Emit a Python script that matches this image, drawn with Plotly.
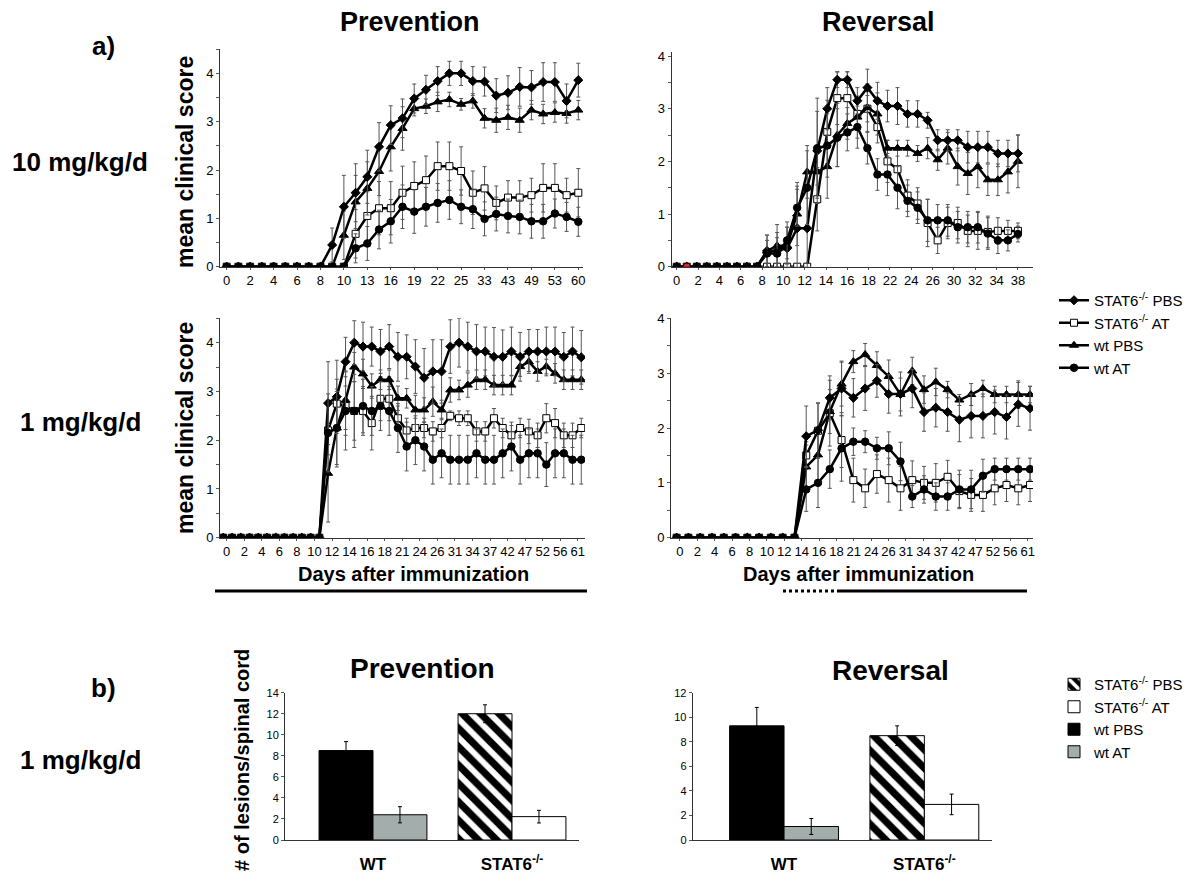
import plotly.graph_objects as go
import numpy as np

# ---- a) mean clinical score: tick labels (days after immunization) ----
days_prev10 = ["0", "2", "4", "6", "8", "10", "13", "16", "19", "22", "25", "33", "43", "49", "53", "60"]
days_rev10 = ["0", "2", "4", "6", "8", "10", "12", "14", "16", "18", "22", "24", "26", "30", "32", "34", "38"]
days_prev1 = ["0", "2", "4", "6", "8", "10", "12", "14", "16", "18", "21", "24", "26", "31", "34", "37",
              "42", "47", "52", "56", "61"]
days_rev1 = ["0", "2", "4", "6", "8", "10", "12", "14", "16", "18", "21", "24", "26", "31", "34", "37",
             "42", "47", "52", "56", "61"]

# prevention, 10 mg/kg/d  (31 time points)
stat_pbs_prev10 = [0, 0, 0, 0, 0, 0, 0, 0, 0, 0.45, 1.24, 1.53, 1.86, 2.48, 2.93, 3.07, 3.48, 3.66, 3.84, 4.0,
                   4.0, 3.84, 3.83, 3.54, 3.6, 3.72, 3.71, 3.82, 3.82, 3.43, 3.86]
stat_pbs_prev10_err = [0, 0, 0, 0, 0, 0, 0, 0, 0, 0.35, 0.65, 0.6, 0.55, 0.5, 0.4, 0.4, 0.3, 0.3, 0.3, 0.25,
                       0.25, 0.3, 0.3, 0.35, 0.35, 0.4, 0.35, 0.4, 0.4, 0.35, 0.35]
stat_at_prev10 = [0, 0, 0, 0, 0, 0, 0, 0, 0, 0, 0, 0.68, 1.05, 1.21, 1.21, 1.53, 1.67, 1.79, 2.08, 2.08,
                  1.98, 1.53, 1.62, 1.32, 1.43, 1.43, 1.48, 1.63, 1.63, 1.48, 1.53]
stat_at_prev10_err = [0, 0, 0, 0, 0, 0, 0, 0, 0, 0, 0, 0.5, 0.5, 0.55, 0.55, 0.55, 0.5, 0.5, 0.5, 0.5,
                      0.5, 0.45, 0.45, 0.35, 0.35, 0.35, 0.35, 0.5, 0.5, 0.35, 0.5]
wt_pbs_prev10 = [0, 0, 0, 0, 0, 0, 0, 0, 0, 0, 0.65, 1.34, 1.62, 1.97, 2.48, 2.86, 3.27, 3.32, 3.41, 3.46,
                 3.36, 3.43, 3.07, 3.03, 3.09, 3.03, 3.24, 3.16, 3.19, 3.17, 3.24]
wt_pbs_prev10_err = [0, 0, 0, 0, 0, 0, 0, 0, 0, 0, 0.5, 0.55, 0.55, 0.5, 0.5, 0.45, 0.15, 0.15, 0.2, 0.15,
                     0.12, 0.15, 0.2, 0.25, 0.25, 0.25, 0.2, 0.2, 0.2, 0.2, 0.2]
wt_at_prev10 = [0, 0, 0, 0, 0, 0, 0, 0, 0, 0, 0, 0.38, 0.48, 0.77, 0.94, 1.24, 1.14, 1.24, 1.32, 1.38,
                1.24, 1.19, 0.99, 1.09, 1.05, 1.03, 0.94, 0.94, 1.1, 1.03, 0.93]
wt_at_prev10_err = [0, 0, 0, 0, 0, 0, 0, 0, 0, 0, 0, 0.3, 0.35, 0.4, 0.45, 0.45, 0.45, 0.4, 0.4, 0.4,
                    0.35, 0.4, 0.35, 0.35, 0.35, 0.35, 0.35, 0.35, 0.3, 0.3, 0.3]

# reversal, 10 mg/kg/d  (35 time points)
stat_pbs_rev10 = [0, 0, 0, 0, 0, 0, 0, 0, 0, 0.3, 0.3, 0.35, 0.73, 0.73, 2.2, 3.0, 3.55, 3.55, 3.15, 3.4,
                  3.15, 3.05, 3.05, 2.9, 2.9, 2.78, 2.4, 2.4, 2.4, 2.27, 2.27, 2.27, 2.15, 2.15, 2.15]
stat_pbs_rev10_err = [0, 0, 0, 0, 0, 0, 0, 0, 0, 0.3, 0.35, 0.4, 0.8, 0.8, 1.0, 0.4, 0.15, 0.15, 0.25, 0.35,
                      0.35, 0.3, 0.35, 0.25, 0.25, 0.15, 0.2, 0.2, 0.2, 0.3, 0.3, 0.3, 0.25, 0.25, 0.35]
stat_at_rev10 = [0, 0, 0, 0, 0, 0, 0, 0, 0, 0, 0, 0, 0, 0, 1.28, 2.56, 3.2, 3.2, 2.9, 3.0,
                 2.65, 2.0, 1.85, 1.35, 1.2, 0.83, 0.5, 0.83, 0.83, 0.68, 0.68, 0.66, 0.68, 0.68, 0.68]
stat_at_rev10_err = [0, 0, 0, 0, 0, 0, 0, 0, 0, 0, 0, 0, 0, 0, 0.6, 0.6, 0.5, 0.5, 0.25, 0.25,
                     0.3, 0.4, 0.4, 0.3, 0.3, 0.45, 0.25, 0.3, 0.3, 0.3, 0.35, 0.3, 0.25, 0.2, 0.15]
wt_pbs_rev10 = [0, 0, 0, 0, 0, 0, 0, 0, 0, 0.3, 0.4, 0.4, 1.0, 1.8, 1.8, 1.9, 2.5, 2.72, 2.84, 3.02,
                2.9, 2.25, 2.25, 2.25, 2.15, 2.25, 2.03, 2.25, 1.9, 1.77, 1.9, 1.65, 1.65, 1.8, 2.0]
wt_pbs_rev10_err = [0, 0, 0, 0, 0, 0, 0, 0, 0, 0.3, 0.4, 0.35, 0.6, 0.5, 0.5, 0.6, 0.6, 0.3, 0.4, 0.45,
                    0.4, 0.15, 0.15, 0.15, 0.15, 0.2, 0.2, 0.3, 0.35, 0.4, 0.4, 0.3, 0.3, 0.4, 0.5]
wt_at_rev10 = [0, 0, 0, 0, 0, 0, 0, 0, 0, 0.25, 0.25, 0.5, 1.12, 1.5, 2.25, 2.3, 2.45, 2.55, 2.65, 2.25,
               1.75, 1.75, 1.5, 1.25, 1.12, 0.88, 0.88, 0.88, 0.75, 0.75, 0.75, 0.63, 0.5, 0.5, 0.62]
wt_at_rev10_err = [0, 0, 0, 0, 0, 0, 0, 0, 0, 0.25, 0.3, 0.35, 0.35, 0.7, 0.7, 0.6, 0.55, 0.35, 0.4, 0.3,
                   0.3, 0.4, 0.4, 0.3, 0.3, 0.4, 0.3, 0.3, 0.3, 0.3, 0.3, 0.3, 0.25, 0.2, 0.15]

# prevention, 1 mg/kg/d  (42 time points)
stat_pbs_prev1 = [0, 0, 0, 0, 0, 0, 0, 0, 0, 0, 0, 0, 2.76, 2.89, 3.61, 4.0, 3.92, 3.92, 3.82, 3.92, 3.71,
                  3.71, 3.51, 3.28, 3.41, 3.41, 3.92, 4.0, 3.92, 3.82, 3.82, 3.71, 3.71, 3.82, 3.71, 3.82,
                  3.82, 3.82, 3.82, 3.71, 3.82, 3.7]
stat_pbs_prev1_err = [0, 0, 0, 0, 0, 0, 0, 0, 0, 0, 0, 0, 0.85, 0.75, 0.5, 0.45, 0.5, 0.4, 0.45, 0.45, 0.5,
                      0.45, 0.55, 0.6, 0.65, 0.65, 0.55, 0.5, 0.5, 0.55, 0.5, 0.6, 0.55, 0.5, 0.5, 0.45,
                      0.45, 0.5, 0.5, 0.5, 0.5, 0.55]
stat_at_prev1 = [0, 0, 0, 0, 0, 0, 0, 0, 0, 0, 0, 0, 2.2, 2.75, 2.7, 2.6, 2.6, 2.35, 2.85, 2.85, 2.45,
                 2.2, 2.25, 2.25, 2.18, 2.25, 2.5, 2.45, 2.45, 2.18, 2.18, 2.45, 2.25, 2.1, 2.25, 2.18,
                 2.1, 2.45, 2.35, 2.1, 2.1, 2.25]
stat_at_prev1_err = [0, 0, 0, 0, 0, 0, 0, 0, 0, 0, 0, 0, 0.5, 0.5, 0.6, 0.6, 0.5, 0.55, 0.45, 0.45, 0.25,
                     0.25, 0.2, 0.2, 0.2, 0.2, 0.1, 0.15, 0.15, 0.2, 0.2, 0.2, 0.2, 0.2, 0.2, 0.25,
                     0.25, 0.3, 0.3, 0.25, 0.25, 0.2]
wt_pbs_prev1 = [0, 0, 0, 0, 0, 0, 0, 0, 0, 0, 0, 0, 1.32, 2.25, 2.82, 3.5, 3.36, 3.11, 3.24, 3.24, 2.86,
                2.86, 2.62, 2.62, 2.79, 2.62, 3.03, 3.03, 3.13, 3.24, 3.24, 3.13, 3.13, 3.13, 3.51, 3.61,
                3.41, 3.51, 3.37, 3.24, 3.24, 3.24]
wt_pbs_prev1_err = [0, 0, 0, 0, 0, 0, 0, 0, 0, 0, 0, 0, 1.0, 0.8, 0.6, 0.3, 0.3, 0.25, 0.2, 0.2, 0.25,
                    0.2, 0.3, 0.25, 0.3, 0.2, 0.25, 0.2, 0.25, 0.2, 0.2, 0.2, 0.2, 0.2, 0.2, 0.2,
                    0.2, 0.15, 0.2, 0.2, 0.2, 0.2]
wt_at_prev1 = [0, 0, 0, 0, 0, 0, 0, 0, 0, 0, 0, 0, 2.15, 2.25, 2.6, 2.6, 2.7, 2.6, 2.7, 2.6, 2.25,
               1.87, 2.0, 1.87, 1.6, 1.73, 1.6, 1.6, 1.6, 1.73, 1.6, 1.6, 1.73, 1.87, 1.6, 1.73,
               1.73, 1.5, 1.73, 1.73, 1.6, 1.6]
wt_at_prev1_err = [0, 0, 0, 0, 0, 0, 0, 0, 0, 0, 0, 0, 0.8, 0.75, 0.8, 0.75, 0.55, 0.5, 0.5, 0.5, 0.5,
                   0.5, 0.5, 0.5, 0.5, 0.5, 0.5, 0.5, 0.5, 0.5, 0.5, 0.5, 0.5, 0.5, 0.5, 0.5,
                   0.5, 0.45, 0.5, 0.5, 0.5, 0.5]

# reversal, 1 mg/kg/d  (31 time points)
stat_pbs_rev1 = [0, 0, 0, 0, 0, 0, 0, 0, 0, 0, 0, 1.85, 1.96, 2.55, 2.72, 2.55, 2.72, 2.86, 2.62, 2.62,
                 2.72, 2.29, 2.37, 2.29, 2.15, 2.22, 2.22, 2.29, 2.2, 2.43, 2.36]
stat_pbs_rev1_err = [0, 0, 0, 0, 0, 0, 0, 0, 0, 0, 0, 0.55, 0.5, 0.4, 0.5, 0.35, 0.4, 0.3, 0.35, 0.4,
                     0.35, 0.35, 0.35, 0.35, 0.4, 0.4, 0.4, 0.4, 0.4, 0.4, 0.4]
stat_at_rev1 = [0, 0, 0, 0, 0, 0, 0, 0, 0, 0, 0, 1.5, 1.95, 2.27, 1.78, 1.05, 0.9, 1.16, 1.05, 0.9,
                1.05, 1.0, 1.0, 1.11, 0.85, 0.78, 0.78, 0.9, 0.96, 0.9, 0.96]
stat_at_rev1_err = [0, 0, 0, 0, 0, 0, 0, 0, 0, 0, 0, 0.25, 0.5, 0.6, 0.5, 0.4, 0.35, 0.35, 0.4, 0.4,
                    0.35, 0.3, 0.35, 0.3, 0.3, 0.3, 0.3, 0.3, 0.3, 0.3, 0.3]
wt_pbs_rev1 = [0, 0, 0, 0, 0, 0, 0, 0, 0, 0, 0, 1.29, 1.51, 2.3, 2.8, 3.21, 3.34, 3.14, 2.94, 2.61,
               3.04, 2.7, 2.84, 2.7, 2.51, 2.61, 2.72, 2.61, 2.61, 2.61, 2.61]
wt_pbs_rev1_err = [0, 0, 0, 0, 0, 0, 0, 0, 0, 0, 0, 0.4, 0.5, 0.4, 0.4, 0.2, 0.2, 0.25, 0.3, 0.3,
                   0.25, 0.25, 0.25, 0.15, 0.1, 0.2, 0.15, 0.15, 0.15, 0.25, 0.15]
wt_at_rev1 = [0, 0, 0, 0, 0, 0, 0, 0, 0, 0, 0, 0.88, 1.0, 1.25, 1.63, 1.75, 1.75, 1.63, 1.63, 1.39,
              0.75, 0.88, 0.75, 0.75, 0.88, 0.88, 1.13, 1.25, 1.25, 1.25, 1.25]
wt_at_rev1_err = [0, 0, 0, 0, 0, 0, 0, 0, 0, 0, 0, 0.4, 0.45, 0.35, 0.6, 0.25, 0.2, 0.2, 0.3, 0.35,
                  0.2, 0.25, 0.25, 0.25, 0.35, 0.35, 0.3, 0.2, 0.2, 0.2, 0.2]

# ---- b) lesions per spinal cord ----
lesion_groups = ["WT", "STAT6<sup>-/-</sup>"]
lesions_pbs_prev = [8.5, 12.0]
lesions_pbs_prev_err = [0.85, 0.85]
lesions_at_prev = [2.4, 2.22]
lesions_at_prev_err = [0.77, 0.6]
lesions_pbs_rev = [9.3, 8.5]
lesions_pbs_rev_err = [1.5, 0.8]
lesions_at_rev = [1.1, 2.9]
lesions_at_rev_err = [0.65, 0.84]

# ---------------------------------------------------------------
# the page body keeps its default 8px margin, so the figure is drawn
# 8px in from the window edge; px()/py() take window pixel positions
PAD = 8
W, H = 1200 - 2 * PAD, 885 - 2 * PAD
FONT = "Liberation Sans, Arial, Helvetica, sans-serif"
SP = "STAT6<sup>-/-</sup> PBS"
SA = "STAT6<sup>-/-</sup> AT"
WP = "wt PBS"
WA = "wt AT"


def px(x):
    return (x - PAD) / W


def py(y):
    return 1 - (y - PAD) / H


style = {
    SP: dict(symbol="diamond", size=7, color="black", rank=1),
    SA: dict(symbol="square", size=7, color="white", rank=2),
    WP: dict(symbol="triangle-up", size=8, color="black", rank=3),
    WA: dict(symbol="circle", size=7.5, color="black", rank=4),
}

# box = (left, right, top, bottom) of the axes in window pixels
panels = [
    dict(labels=days_prev10, box=(220, 583, 49.2, 266.7), xr=(-0.57, 30.4), yr=(0, 4.5), lab=(0, 30),
         series=[(SA, stat_at_prev10, stat_at_prev10_err), (WP, wt_pbs_prev10, wt_pbs_prev10_err),
                 (SP, stat_pbs_prev10, stat_pbs_prev10_err), (WA, wt_at_prev10, wt_at_prev10_err)]),
    dict(labels=days_rev10, box=(671.7, 1033, 51.8, 266.7), xr=(-0.5, 35.5), yr=(0, 4.08), lab=(0, 34),
         series=[(SA, stat_at_rev10, stat_at_rev10_err), (WP, wt_pbs_rev10, wt_pbs_rev10_err),
                 (SP, stat_pbs_rev10, stat_pbs_rev10_err), (WA, wt_at_rev10, wt_at_rev10_err)]),
    dict(labels=days_prev1, box=(220, 585, 318.3, 537.7), xr=(-0.38, 41.43), yr=(0, 4.5), lab=(0.39, 40.6),
         series=[(SA, stat_at_prev1, stat_at_prev1_err), (WP, wt_pbs_prev1, wt_pbs_prev1_err),
                 (SP, stat_pbs_prev1, stat_pbs_prev1_err), (WA, wt_at_prev1, wt_at_prev1_err)]),
    dict(labels=days_rev1, box=(671, 1033, 318.3, 537.7), xr=(-0.48, 30.25), yr=(0, 4.0), lab=(0.28, 29.8),
         series=[(SA, stat_at_rev1, stat_at_rev1_err), (WP, wt_pbs_rev1, wt_pbs_rev1_err),
                 (SP, stat_pbs_rev1, stat_pbs_rev1_err), (WA, wt_at_rev1, wt_at_rev1_err)]),
]

fig = go.Figure()
layout_axes = {}

for k, p in enumerate(panels, start=1):
    sfx = "" if k == 1 else str(k)
    for name, y, err in p["series"]:
        st = style[name]
        colors = [st["color"]] * len(y)
        if k == 2 and name == WA:
            colors[1] = "#e0202a"  # the single red marker on day 1
        fig.add_trace(go.Scatter(
            x=np.arange(len(y)), y=y, name=name, mode="lines+markers",
            xaxis="x" + sfx, yaxis="y" + sfx,
            line=dict(color="black", width=2.5),
            marker=dict(symbol=st["symbol"], size=st["size"], color=colors,
                        line=dict(color="black", width=1)),
            error_y=dict(type="data", array=err, color="#555555", thickness=1, width=2),
            showlegend=(k == 1), legendrank=st["rank"], legend="legend",
        ))
    l, r, t, b = p["box"]
    layout_axes["xaxis" + sfx] = dict(
        domain=[px(l), px(r)], range=list(p["xr"]), anchor="y" + sfx,
        tickmode="array", tickvals=np.linspace(p["lab"][0], p["lab"][1], len(p["labels"])),
        ticktext=p["labels"], ticks="outside", ticklen=2, tickcolor="#555",
        showline=True, linecolor="#333", linewidth=1, showgrid=False, zeroline=False,
        tickfont=dict(family=FONT, size=13, color="black"),
    )
    layout_axes["yaxis" + sfx] = dict(
        domain=[py(b), py(t)], range=list(p["yr"]), anchor="x" + sfx,
        tickmode="linear", tick0=0, dtick=1, ticks="outside", ticklen=3, tickcolor="#555",
        minor=dict(tickmode="linear", tick0=0, dtick=0.5, ticks="outside", ticklen=3, tickcolor="#555"),
        showline=True, linecolor="#333", linewidth=1, showgrid=False, zeroline=False,
        tickfont=dict(family=FONT, size=13, color="black"),
    )

# ---- bar panels ----
bar_w = 0.388
bar_panels = [
    dict(k=5, box=(285, 579, 692.7, 840), xr=(-0.633, 1.482), yr=(0, 14),
         pbs=lesions_pbs_prev, pbs_err=lesions_pbs_prev_err, at=lesions_at_prev, at_err=lesions_at_prev_err),
    dict(k=6, box=(692.7, 991.7, 692.7, 840), xr=(-0.651, 1.48), yr=(0, 12),
         pbs=lesions_pbs_rev, pbs_err=lesions_pbs_rev_err, at=lesions_at_rev, at_err=lesions_at_rev_err),
]
grey = "#a3adab"
for bp in bar_panels:
    sfx = str(bp["k"])
    first = bp["k"] == 5
    common = dict(xaxis="x" + sfx, yaxis="y" + sfx, width=bar_w, legend="legend2", showlegend=first)
    # WT group
    fig.add_trace(go.Bar(x=[lesion_groups[0]], y=[bp["pbs"][0]], name=WP, offset=-bar_w,
                         marker=dict(color="black", line=dict(color="black", width=1)),
                         error_y=dict(type="data", array=[bp["pbs_err"][0]], color="black", thickness=1, width=2),
                         legendrank=3, **common))
    fig.add_trace(go.Bar(x=[lesion_groups[0]], y=[bp["at"][0]], name=WA, offset=0,
                         marker=dict(color=grey, line=dict(color="black", width=1)),
                         error_y=dict(type="data", array=[bp["at_err"][0]], color="black", thickness=1, width=2),
                         legendrank=4, **common))
    # STAT6-/- group
    fig.add_trace(go.Bar(x=[lesion_groups[1]], y=[bp["pbs"][1]], name=SP, offset=-bar_w,
                         marker=dict(color="black", line=dict(color="black", width=1),
                                     pattern=dict(shape="\\", fgcolor="white", bgcolor="black",
                                                  fillmode="replace", size=13, solidity=0.45)),
                         error_y=dict(type="data", array=[bp["pbs_err"][1]], color="black", thickness=1, width=2),
                         legendrank=1, **common))
    fig.add_trace(go.Bar(x=[lesion_groups[1]], y=[bp["at"][1]], name=SA, offset=0,
                         marker=dict(color="white", line=dict(color="black", width=1)),
                         error_y=dict(type="data", array=[bp["at_err"][1]], color="black", thickness=1, width=2),
                         legendrank=2, **common))
    l, r, t, b = bp["box"]
    layout_axes["xaxis" + sfx] = dict(
        domain=[px(l), px(r)], range=list(bp["xr"]), anchor="y" + sfx, type="category",
        ticks="", ticklabelstandoff=9, showline=True, linecolor="#333", linewidth=1,
        showgrid=False, zeroline=False,
        tickfont=dict(family=FONT, size=17, color="black", weight="bold"),
    )
    layout_axes["yaxis" + sfx] = dict(
        domain=[py(b), py(t)], range=list(bp["yr"]), anchor="x" + sfx,
        tickmode="linear", tick0=0, dtick=2, ticks="outside", ticklen=3, tickcolor="#555",
        showline=True, linecolor="#333", linewidth=1, showgrid=False, zeroline=False,
        tickfont=dict(family=FONT, size=11, color="black"),
    )


def text(s, x, y, size, bold=True, angle=0):
    return dict(text=s, x=px(x), y=py(y), xref="paper", yref="paper", showarrow=False,
                xanchor="center", yanchor="middle", textangle=angle,
                font=dict(family=FONT, size=size, color="black", weight="bold" if bold else "normal"))


annotations = [
    text("a)", 103, 46, 26),
    text("b)", 103, 688, 26),
    text("Prevention", 410, 22, 27),
    text("Reversal", 878, 22, 27),
    text("10 mg/kg/d", 80, 162, 26),
    text("1 mg/kg/d", 80, 422, 26),
    text("1 mg/kg/d", 80, 760, 26),
    text("mean clinical score", 185, 162, 23, angle=-90),
    text("mean clinical score", 185, 428, 23, angle=-90),
    text("Days after immunization", 413, 574, 20),
    text("Days after immunization", 858, 574, 20),
    text("Prevention", 422, 668, 28),
    text("Reversal", 890, 670, 28),
    text("# of lesions/spinal cord", 242, 760, 20, angle=-90),
]

shapes = [
    dict(type="line", xref="paper", yref="paper", x0=px(215), x1=px(587), y0=py(591), y1=py(591),
         line=dict(color="black", width=3)),
    dict(type="line", xref="paper", yref="paper", x0=px(783), x1=px(838), y0=py(591), y1=py(591),
         line=dict(color="black", width=3, dash="dot")),
    dict(type="line", xref="paper", yref="paper", x0=px(838), x1=px(1027), y0=py(591), y1=py(591),
         line=dict(color="black", width=3)),
]

fig.update_layout(
    width=W, height=H, margin=dict(l=0, r=0, t=0, b=0, autoexpand=False),
    paper_bgcolor="white", plot_bgcolor="white",
    barmode="overlay",
    annotations=annotations, shapes=shapes,
    legend=dict(x=px(1054), y=py(284), xanchor="left", yanchor="top", bgcolor="rgba(0,0,0,0)",
                font=dict(family=FONT, size=15, color="black"), tracegroupgap=0, itemwidth=30),
    legend2=dict(x=px(1054), y=py(668), xanchor="left", yanchor="top", bgcolor="rgba(0,0,0,0)",
                 font=dict(family=FONT, size=15, color="black"), tracegroupgap=0, itemwidth=30),
    **layout_axes,
)

fig.write_html("out.html")
